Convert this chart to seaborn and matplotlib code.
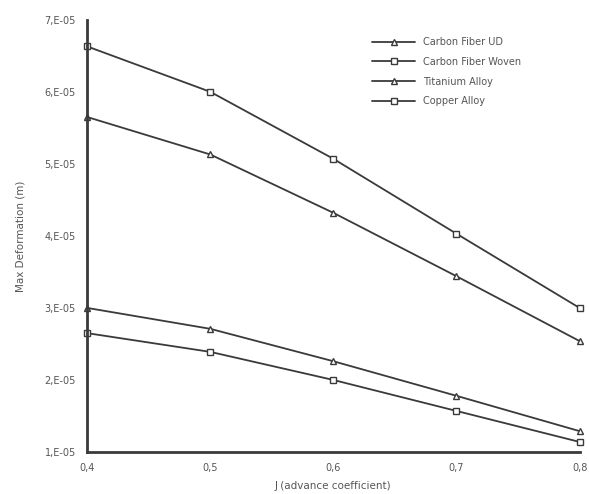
import pandas as pd
import numpy as np
import matplotlib
matplotlib.use('Agg')
import matplotlib.pyplot as plt
import seaborn as sns

j_values = [0.4, 0.5, 0.6, 0.7, 0.8]
series_names = ['Carbon Fiber UD', 'Carbon Fiber Woven', 'Titanium Alloy', 'Copper Alloy']
carbon_ud = [3.00e-5, 2.71e-5, 2.26e-5, 1.78e-5, 1.29e-5]
carbon_woven = [2.65e-5, 2.39e-5, 2.00e-5, 1.57e-5, 1.14e-5]
titanium = [5.65e-5, 5.13e-5, 4.32e-5, 3.44e-5, 2.54e-5]
copper = [6.63e-5, 6.00e-5, 5.07e-5, 4.03e-5, 3.00e-5]
y_ticks = [1e-5, 2e-5, 3e-5, 4e-5, 5e-5, 6e-5, 7e-5]
y_tick_labels = ['1,E-05', '2,E-05', '3,E-05', '4,E-05', '5,E-05', '6,E-05', '7,E-05']
x_tick_labels = ['0,4', '0,5', '0,6', '0,7', '0,8']

rows = []
for name, vals in zip(series_names, [carbon_ud, carbon_woven, titanium, copper]):
    for j, v in zip(j_values, vals):
        rows.append({'J': j, 'Deformation': v, 'Material': name})
df = pd.DataFrame(rows)

sns.set_style('white')
plt.rcParams['font.family'] = ['DejaVu Sans']

fig = plt.figure(figsize=(5.89, 4.94), dpi=100)
ax = fig.add_axes([0.148, 0.085, 0.836, 0.875])

line_col = '#3a3a3a'
palette = {n: line_col for n in series_names}
markers = {'Carbon Fiber UD': '^', 'Carbon Fiber Woven': 's',
           'Titanium Alloy': '^', 'Copper Alloy': 's'}
sns.lineplot(data=df, x='J', y='Deformation', hue='Material', style='Material',
             hue_order=series_names, style_order=series_names,
             palette=palette, markers=markers, dashes=False, ax=ax,
             linewidth=1.3, markersize=5, markerfacecolor='white',
             markeredgecolor=line_col, markeredgewidth=1.0, clip_on=False)

ax.set_xlim(0.4, 0.8)
ax.set_ylim(1e-5, 7e-5)
ax.set_xticks(j_values)
ax.set_xticklabels(x_tick_labels, fontsize=7, color='#555555')
ax.set_yticks(y_ticks)
ax.set_yticklabels(y_tick_labels, fontsize=7, color='#555555')
ax.tick_params(length=0, pad=8)
ax.set_xlabel('J (advance coefficient)', fontsize=7.5, color='#555555', labelpad=6)
ax.set_ylabel('Max Deformation (m)', fontsize=7.5, color='#555555', labelpad=14)

for s in ['top', 'right']:
    ax.spines[s].set_visible(False)
for s in ['left', 'bottom']:
    ax.spines[s].set_color(line_col)
    ax.spines[s].set_linewidth(2)

leg = ax.legend(loc='upper left', bbox_to_anchor=(0.56, 0.98), frameon=False,
                fontsize=7, handlelength=4.5, labelspacing=1.0)
for t in leg.get_texts():
    t.set_color('#555555')

fig.savefig('out.png', dpi=100)
